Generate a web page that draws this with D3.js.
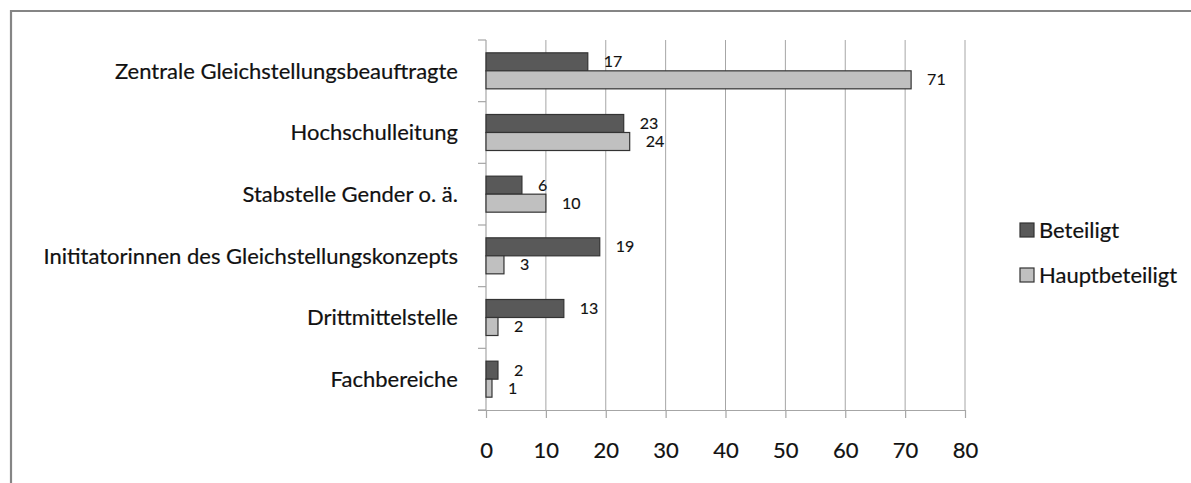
<!DOCTYPE html>
<html>
<head>
<meta charset="utf-8">
<script src="https://cdn.jsdelivr.net/npm/d3@7"></script>
<style>
  html, body { margin: 0; padding: 0; background: #fff; }
  svg { display: block; }
  text { font-family: Lato, "Open Sans", sans-serif; }
</style>
</head>
<body>
<svg id="chart" width="1191" height="483"></svg>
<script>
const categories = [
  "Zentrale Gleichstellungsbeauftragte",
  "Hochschulleitung",
  "Stabstelle Gender o. ä.",
  "Inititatorinnen des Gleichstellungskonzepts",
  "Drittmittelstelle",
  "Fachbereiche"
];
const seriesNames = ["Beteiligt", "Hauptbeteiligt"];
const beteiligt = [17, 23, 6, 19, 13, 2];
const hauptbeteiligt = [71, 24, 10, 3, 2, 1];
const xTicks = [0, 10, 20, 30, 40, 50, 60, 70, 80];
const seriesColors = ["#595959", "#c0c0c0"];

const svg = d3.select("#chart");
const W = 1191, H = 483;
const plot = { left: 486, right: 965, top: 40, bottom: 410 };

// outer frame
svg.append("rect").attr("x", 0).attr("y", 0).attr("width", W).attr("height", H).attr("fill", "#fff");
svg.append("line").attr("x1", 10).attr("x2", W).attr("y1", 11).attr("y2", 11)
  .attr("stroke", "#858585").attr("stroke-width", 2.2);
svg.append("line").attr("x1", 11).attr("x2", 11).attr("y1", 10).attr("y2", H)
  .attr("stroke", "#858585").attr("stroke-width", 2.2);

const x = d3.scaleLinear().domain([0, 80]).range([plot.left, plot.right]);
const y0 = d3.scaleBand().domain(categories).range([plot.top, plot.bottom])
  .paddingInner(0.416).paddingOuter(0.208);
const y1 = d3.scaleBand().domain(seriesNames).range([0, y0.bandwidth()]);

// gridlines
svg.append("g").selectAll("line").data(xTicks.filter(t => t > 0)).join("line")
  .attr("x1", d => x(d)).attr("x2", d => x(d))
  .attr("y1", plot.top).attr("y2", plot.bottom)
  .attr("stroke", "#a6a6a6").attr("stroke-width", 1);

// category axis line + boundary ticks
svg.append("line").attr("x1", plot.left).attr("x2", plot.left)
  .attr("y1", plot.top).attr("y2", plot.bottom)
  .attr("stroke", "#a6a6a6").attr("stroke-width", 1.2);
const step = y0.step();
svg.append("g").selectAll("line").data(d3.range(categories.length + 1)).join("line")
  .attr("x1", plot.left - 8).attr("x2", plot.left)
  .attr("y1", i => plot.top + i * step).attr("y2", i => plot.top + i * step)
  .attr("stroke", "#a6a6a6").attr("stroke-width", 1.2);

// category labels
svg.append("g").selectAll("text").data(categories).join("text")
  .attr("x", 458).attr("y", d => y0(d) + y0.bandwidth() / 2)
  .attr("dy", "0.35em").attr("text-anchor", "end")
  .attr("font-size", 22).attr("fill", "#111")
  .attr("stroke", "#111").attr("stroke-width", 0.2)
  .text(d => d);

// bars
const rows = categories.map((c, i) => ({ cat: c, vals: [beteiligt[i], hauptbeteiligt[i]] }));
const g = svg.append("g").selectAll("g").data(rows).join("g")
  .attr("transform", d => `translate(0,${y0(d.cat)})`);
g.selectAll("rect").data(d => d.vals.map((v, j) => ({ v, s: seriesNames[j], j }))).join("rect")
  .attr("x", x(0)).attr("y", d => y1(d.s))
  .attr("width", d => x(d.v) - x(0)).attr("height", y1.bandwidth())
  .attr("fill", d => seriesColors[d.j])
  .attr("stroke", "#333").attr("stroke-width", 1.2);
g.selectAll("text").data(d => d.vals.map((v, j) => ({ v, s: seriesNames[j], j }))).join("text")
  .attr("x", d => x(d.v) + 16).attr("y", d => y1(d.s) + y1.bandwidth() / 2)
  .attr("dy", "0.35em").attr("font-size", 16).attr("fill", "#111")
  .attr("stroke", "#111").attr("stroke-width", 0.15)
  .text(d => d.v);

// value axis
const xAxis = svg.append("g").attr("transform", `translate(0,${plot.bottom})`)
  .call(d3.axisBottom(x).tickValues(xTicks).tickSize(8).tickSizeOuter(0));
xAxis.select(".domain").attr("d", `M${plot.left - 8},0.5H${plot.right}`)
  .attr("stroke", "#a6a6a6").attr("stroke-width", 1.2);
xAxis.selectAll(".tick line").attr("stroke", "#a6a6a6").attr("stroke-width", 1.2);
xAxis.selectAll(".tick text").attr("y", 40).attr("dy", "0.35em")
  .attr("font-size", 22).attr("fill", "#111")
  .attr("stroke", "#111").attr("stroke-width", 0.2)
  .attr("font-family", "Lato, sans-serif");

// legend
const legend = svg.append("g").selectAll("g").data(seriesNames).join("g")
  .attr("transform", (d, i) => `translate(1020,${223 + i * 45})`);
legend.append("rect").attr("width", 14).attr("height", 14)
  .attr("fill", (d, i) => seriesColors[i]).attr("stroke", "#333").attr("stroke-width", 1.2);
legend.append("text").attr("x", 19).attr("y", 7).attr("dy", "0.35em")
  .attr("font-size", 22).attr("fill", "#111")
  .attr("stroke", "#111").attr("stroke-width", 0.2)
  .text(d => d);
</script>
</body>
</html>
